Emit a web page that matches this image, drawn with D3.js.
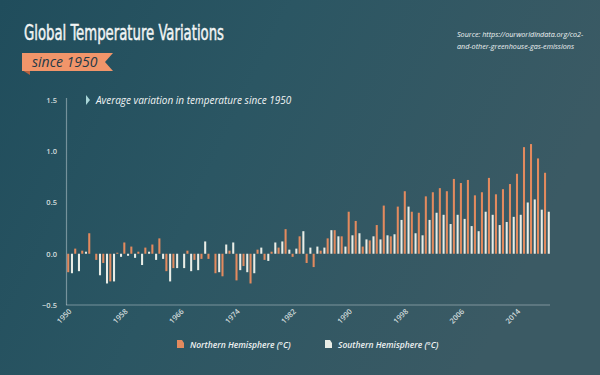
<!DOCTYPE html>
<html>
<head>
<meta charset="utf-8">
<script src="https://cdn.jsdelivr.net/npm/d3@7"></script>
<style>
  html, body { margin: 0; padding: 0; background: #2a5360; }
  svg { display: block; }
</style>
</head>
<body>
<svg id="chart" width="600" height="375"></svg>
<script>
// ---- Data ----
const years = d3.range(1950, 2019);
const northern = [
  -0.18, 0.05, 0.03, 0.20, -0.06, -0.09, -0.27, 0.01, 0.11, 0.07,
   0.02, 0.06, 0.09, 0.15, -0.17, -0.14, 0.00, 0.03, -0.06, -0.05,
  -0.05, -0.19, -0.22, 0.03, -0.26, -0.12, -0.29, 0.04, -0.06, 0.02,
   0.06, 0.24, -0.03, 0.17, -0.09, -0.13, 0.03, 0.15, 0.23, 0.17,
   0.41, 0.32, 0.07, 0.13, 0.28, 0.47, 0.17, 0.46, 0.61, 0.41,
   0.40, 0.56, 0.60, 0.64, 0.61, 0.73, 0.69, 0.72, 0.57, 0.60,
   0.74, 0.58, 0.63, 0.68, 0.78, 1.04, 1.07, 0.93, 0.79
];
const southern = [
  -0.19, -0.17, 0.02, 0.00, -0.21, -0.29, -0.27, -0.03, -0.02, -0.04,
  -0.11, 0.02, -0.06, -0.05, -0.27, -0.14, -0.14, -0.17, -0.16, 0.12,
   0.00, -0.18, 0.09, 0.11, -0.16, -0.18, -0.19, 0.06, -0.07, 0.11,
   0.12, 0.04, 0.05, 0.22, 0.06, 0.07, 0.06, 0.23, 0.17, 0.07,
   0.18, 0.20, 0.14, 0.17, 0.14, 0.18, 0.19, 0.33, 0.46, 0.20,
   0.18, 0.33, 0.40, 0.38, 0.29, 0.38, 0.34, 0.27, 0.22, 0.41,
   0.38, 0.28, 0.31, 0.36, 0.38, 0.50, 0.53, 0.43, 0.41
];
const yTicks = [-0.5, 0.0, 0.5, 1.0, 1.5];
const xTickYears = [1950, 1958, 1966, 1974, 1982, 1990, 1998, 2006, 2014];
const seriesNames = ["Northern Hemisphere (°C)", "Southern Hemisphere (°C)"];
const seriesColors = ["#e38a5e", "#e9ede6"];

// ---- Setup ----
const svg = d3.select("#chart");
const W = 600, H = 375;
const defs = svg.append("defs");
const bg = defs.append("linearGradient").attr("id", "bg")
  .attr("x1", "0%").attr("y1", "0%").attr("x2", "100%").attr("y2", "30%");
bg.append("stop").attr("offset", "0%").attr("stop-color", "#204d5c");
bg.append("stop").attr("offset", "45%").attr("stop-color", "#2b5663");
bg.append("stop").attr("offset", "100%").attr("stop-color", "#3b5a64");
svg.append("rect").attr("width", W).attr("height", H).attr("fill", "url(#bg)");

const mLeft = 67, mRight = 550, mTop = 100, mBottom = 305;
const x = d3.scaleBand().domain(years).range([mLeft, mRight]).paddingInner(0.12).paddingOuter(0.0);
const x1 = d3.scaleBand().domain([0, 1]).range([0, x.bandwidth()]).paddingInner(0.45).paddingOuter(0.05);
const y = d3.scaleLinear().domain([-0.5, 1.5]).range([mBottom, mTop]);

// axes lines
const axisColor = "rgba(215,225,228,0.45)";
svg.append("line").attr("x1", mLeft - 0.5).attr("x2", mLeft - 0.5)
  .attr("y1", y(1.5) - 2).attr("y2", mBottom).attr("stroke", axisColor).attr("stroke-width", 1.2);
svg.append("line").attr("x1", mLeft - 1).attr("x2", mRight)
  .attr("y1", mBottom).attr("y2", mBottom).attr("stroke", axisColor).attr("stroke-width", 1.2);

// y axis labels
const yAxis = d3.axisLeft(y).tickValues(yTicks).tickFormat(d3.format(".1f")).tickSize(0).tickPadding(10);
const gy = svg.append("g").attr("transform", `translate(${mLeft},0)`).call(yAxis);
gy.select(".domain").remove();
gy.selectAll("text").attr("fill", "#d2dcdd").attr("font-size", 7.5)
  .attr("font-family", "Open Sans, sans-serif").attr("font-weight", 600);

// x axis labels
const xAxis = d3.axisBottom(x).tickValues(xTickYears).tickSize(0).tickPadding(0);
const gx = svg.append("g").attr("transform", `translate(0,${mBottom})`).call(xAxis);
gx.select(".domain").remove();
gx.selectAll("text")
  .attr("fill", "#d2dcdd").attr("font-size", 7.5)
  .attr("font-family", "Open Sans, sans-serif").attr("font-weight", 600)
  .attr("text-anchor", "end")
  .attr("dy", 0)
  .attr("transform", "translate(2,7) rotate(-45)");

// bars
const data = years.map((yr, i) => ({ year: yr, vals: [northern[i], southern[i]] }));
const groups = svg.append("g").selectAll("g").data(data).join("g")
  .attr("transform", d => `translate(${x(d.year)},0)`);
groups.selectAll("rect").data(d => d.vals.map((v, k) => ({ v, k }))).join("rect")
  .attr("x", d => x1(d.k))
  .attr("width", x1.bandwidth())
  .attr("y", d => Math.min(y(d.v), y(0)))
  .attr("height", d => Math.abs(y(d.v) - y(0)))
  .attr("fill", d => seriesColors[d.k]);

// title
svg.append("text").attr("x", 24).attr("y", 40)
  .attr("font-family", "Liberation Sans Narrow, DejaVu Sans Condensed, Roboto, sans-serif")
  .attr("font-size", 22).attr("font-weight", 400)
  .attr("fill", "#f1f4f4").attr("stroke", "#f1f4f4").attr("stroke-width", 0.5)
  .attr("textLength", 200).attr("lengthAdjust", "spacingAndGlyphs")
  .text("Global Temperature Variations");

// ribbon
svg.append("path").attr("d", "M22,70 L30,70 L30,75 Z").attr("fill", "#b8623f");
svg.append("path").attr("d", "M22,53 L113,53 L105,62 L113,71 L22,71 Z").attr("fill", "#f1956a");
svg.append("text").attr("x", 32).attr("y", 67)
  .attr("font-family", "Open Sans, sans-serif").attr("font-style", "italic")
  .attr("font-size", 14).attr("fill", "#1f3a48")
  .text("since 1950");

// source
const src = svg.append("text").attr("font-family", "Open Sans, sans-serif")
  .attr("font-style", "italic").attr("font-size", 7.2).attr("fill", "#eef2f2");
src.append("tspan").attr("x", 457).attr("y", 37).text("Source: https://ourworldindata.org/co2-");
src.append("tspan").attr("x", 457).attr("y", 49).text("and-other-greenhouse-gas-emissions");

// subtitle
svg.append("path").attr("d", "M86,95 L90,100 L86,105 Z").attr("fill", "#a9d6d8");
svg.append("text").attr("x", 96).attr("y", 104)
  .attr("font-family", "Open Sans, sans-serif").attr("font-style", "italic")
  .attr("font-size", 10).attr("fill", "#f1f4f4")
  .text("Average variation in temperature since 1950");

// legend
const legendX = [177, 325];
const lg = svg.append("g").selectAll("g").data(seriesNames).join("g")
  .attr("transform", (d, i) => `translate(${legendX[i]},340)`);
lg.append("path").attr("d", "M0,0 L5,0 L7,3 L7,8 L0,8 Z")
  .attr("fill", (d, i) => seriesColors[i]);
lg.append("text").attr("x", 13).attr("y", 7.5)
  .attr("font-family", "Open Sans, sans-serif").attr("font-style", "italic")
  .attr("font-weight", 600)
  .attr("font-size", 8.5).attr("fill", "#eef2f2")
  .text(d => d);
</script>
</body>
</html>
